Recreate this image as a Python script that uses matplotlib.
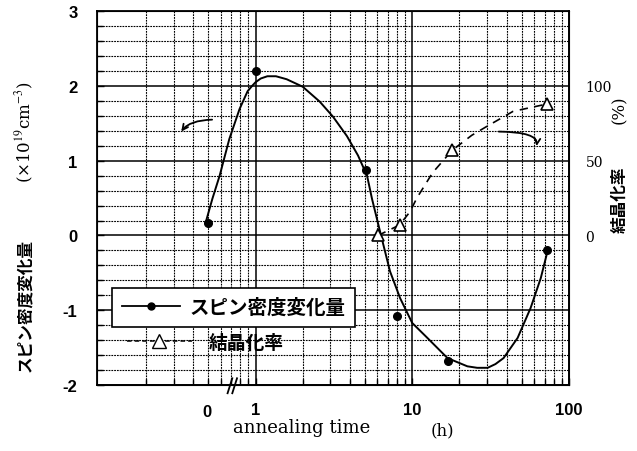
import numpy as np
import matplotlib
matplotlib.use("Agg")
import matplotlib.pyplot as plt
from matplotlib.ticker import FixedLocator, LogLocator, MultipleLocator, NullFormatter

plt.rcParams['font.family'] = ['Liberation Sans', 'Noto Sans CJK JP', 'DejaVu Sans']
plt.rcParams['mathtext.fontset'] = 'stix'
plt.rcParams['axes.unicode_minus'] = False

################################ DATA #########################################
# spin density change (x1e19 cm^-3); first point is "0 h", drawn at the 0.5 position
spin_x = [0.5, 1.0, 5.1, 8.0, 17.0, 73.0]
spin_y = [0.17, 2.2, 0.87, -1.08, -1.68, -0.2]

# hand drawn fit curve through the spin points
spin_fit_x = [0.48, 0.53, 0.59, 0.68, 0.79, 0.89, 0.95, 1.0, 1.08, 1.19, 1.35, 1.58, 2.0,
              2.57, 3.12, 3.83, 4.51, 5.15, 5.54, 6.24, 7.22, 8.38, 10.0, 12.5, 16.8,
              22.5, 26.0, 30.3, 34.0, 38.3, 47.1, 57.0, 66.2, 73.3]
spin_fit_y = [0.17, 0.49, 0.80, 1.29, 1.69, 1.93, 2.0, 2.05, 2.1, 2.13, 2.13, 2.09, 1.99,
              1.79, 1.59, 1.33, 1.07, 0.80, 0.49, 0.05, -0.48, -0.84, -1.17, -1.37, -1.64,
              -1.75, -1.77, -1.77, -1.72, -1.64, -1.37, -0.97, -0.57, -0.2]

# crystallization rate (%)
cryst_x = [6.05, 8.3, 18.0, 73.0]
cryst_y = [0, 7, 57, 88]
cryst_fit_x = [6.05, 8.3, 9.7, 10.7, 13.5, 18.0, 24.0, 30.0, 44.0, 73.0]
cryst_fit_y = [0, 7, 16, 25, 42, 57, 67, 73, 83, 88]

x_ticks = [1, 10, 100]
x_tick_labels = ['1', '10', '100']
y_ticks = [-2, -1, 0, 1, 2, 3]
y2_ticks = [0, 50, 100]

################################ PLOT #########################################
fig = plt.figure(figsize=(6.37, 4.52), dpi=100)
ax = fig.add_axes([0.152, 0.146, 0.741, 0.827])

ax.set_xscale('log')
ax.set_xlim(0.097, 100)
ax.set_ylim(-2, 3)

ax.xaxis.set_major_locator(FixedLocator(x_ticks))
ax.set_xticklabels(x_tick_labels)
ax.xaxis.set_minor_locator(LogLocator(base=10, subs=np.arange(2, 10)))
ax.xaxis.set_minor_formatter(NullFormatter())
ax.set_yticks(y_ticks)
ax.yaxis.set_minor_locator(MultipleLocator(0.2))

ax.grid(which='major', color='black', lw=1.1, ls='-')
ax.grid(which='minor', color='black', lw=0.8, ls=(0, (1.6, 0.9)))
ax.set_axisbelow(True)

ax.tick_params(which='both', direction='in', color='black')
ax.tick_params(which='major', length=5, width=1.0)
ax.tick_params(which='minor', length=4, width=1.0)
ax.tick_params(axis='y', pad=14, labelsize=12)
ax.tick_params(axis='x', pad=12, labelsize=12)
for lab in ax.get_xticklabels() + ax.get_yticklabels():
    lab.set_fontweight('bold')
for sp in ax.spines.values():
    sp.set_linewidth(1.3)

# "0" label sits under the 0 h point
ax.text(spin_x[0] * 0.98, -0.052, '0', transform=ax.get_xaxis_transform(), ha='center', va='top',
        fontsize=12, fontweight='bold')

# axis break mark
for dx in (-0.006, 0.004):
    ax.plot([0.283 + dx, 0.293 + dx], [-0.022, 0.018], transform=ax.transAxes, color='black',
            lw=1.3, clip_on=False)

ax.plot(spin_fit_x, spin_fit_y, color='black', lw=1.4, solid_joinstyle='round')
ax.plot(spin_x, spin_y, 'o', color='black', ms=5.5, ls='none')

ax2 = ax.twinx()
ax2.set_ylim(-100, 150)
ax2.set_yticks(y2_ticks)
ax2.tick_params(axis='y', length=0, pad=12, labelsize=10)
for lab in ax2.get_yticklabels():
    lab.set_family('DejaVu Serif')
ax2.plot(cryst_fit_x, cryst_fit_y, color='black', lw=1.2, ls=(0, (5, 4)))
ax2.plot(cryst_x, cryst_y, '^', mfc='white', mec='black', ms=9, mew=1.2, ls='none')

# hand drawn arrows
ax.annotate('', xy=(0.328, 1.36), xytext=(0.55, 1.55),
            arrowprops=dict(arrowstyle='->', color='black', lw=1.3,
                            connectionstyle='angle3,angleA=0,angleB=60'))
ax.annotate('', xy=(61.6, 1.16), xytext=(34.3, 1.39),
            arrowprops=dict(arrowstyle='->', color='black', lw=1.3,
                            connectionstyle='angle3,angleA=0,angleB=70'))

# legend: first entry boxed, second entry loose below it
h1 = plt.Line2D([], [], color='black', lw=1.3, marker='o', ms=5)
h2 = plt.Line2D([], [], color='black', lw=1.1, ls=(0, (3, 2)), marker='^', mfc='white',
                mec='black', ms=10)
leg1 = ax.legend([h1], ['スピン密度変化量'], loc='upper left', bbox_to_anchor=(0.032, 0.259),
                 borderaxespad=0, frameon=True, fancybox=False, edgecolor='black',
                 framealpha=1, handlelength=3.0, handletextpad=0.5, borderpad=0.5,
                 prop={'family': ['Noto Sans CJK JP'], 'size': 14, 'weight': 'bold'})
leg1.get_frame().set_linewidth(1.2)
ax.add_artist(leg1)
ax.legend([h2], ['結晶化率'], loc='upper left', bbox_to_anchor=(0.047, 0.16),
          borderaxespad=0, frameon=False, handlelength=3.5, handletextpad=0.9,
          prop={'family': ['Noto Sans CJK JP'], 'size': 13.5, 'weight': 'bold'})

# axis labels
fig.text(25 / 637, 1 - 305 / 452, 'スピン密度変化量', rotation=90, ha='center', va='center',
         fontsize=12, fontweight='bold', family=['Noto Sans CJK JP'])
fig.text(25 / 637, 1 - 132 / 452, '(×10$^{19}$cm$^{-3}$)', rotation=90, ha='center',
         va='center', fontsize=12, family=['DejaVu Serif'])
fig.text(620 / 637, 1 - 200 / 452, '結晶化率', rotation=90, ha='center', va='center',
         fontsize=12, fontweight='bold', family=['Noto Sans CJK JP'])
fig.text(620 / 637, 1 - 110 / 452, '(%)', rotation=90, ha='center', va='center',
         fontsize=12, family=['DejaVu Serif'])
fig.text(302 / 637, 1 - 428 / 452, 'annealing time', ha='center', va='center',
         fontsize=13, family=['DejaVu Serif'])
fig.text(442 / 637, 1 - 431 / 452, '(h)', ha='center', va='center',
         fontsize=12, family=['DejaVu Serif'])

fig.savefig('out.png', dpi=100)
